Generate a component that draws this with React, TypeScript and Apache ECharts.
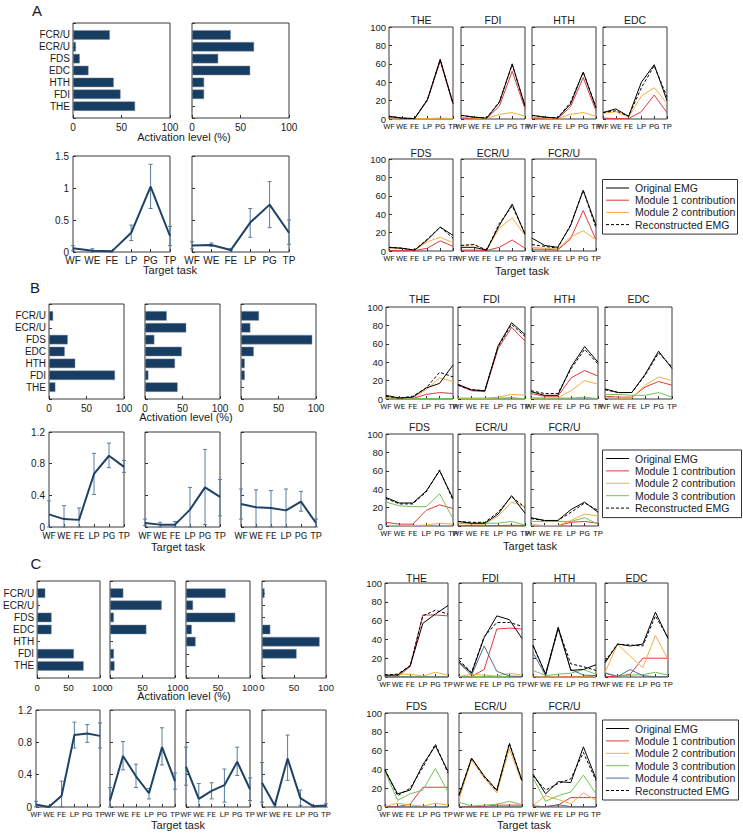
import React, { useEffect, useRef } from 'react';
import * as echarts from 'echarts';

const FONT = '"Liberation Sans", Arial, Helvetica, sans-serif';
const NARROW = 'Roboto, "Liberation Sans", sans-serif';
const TASKS = ['WF', 'WE', 'FE', 'LP', 'PG', 'TP'];
const MUSCLES = ['THE', 'FDI', 'HTH', 'EDC', 'FDS', 'ECR/U', 'FCR/U'];
const BAR_LABELS = ['', ...MUSCLES, ''];
const NAME_ORIG = 'Original EMG';
const NAME_REC = 'Reconstructed EMG';
const MODULE_NAMES = ['Module 1 contribution', 'Module 2 contribution', 'Module 3 contribution', 'Module 4 contribution'];
const MODULE_COLORS = ['#e2383c', '#f5ad3c', '#72c255', '#4e6d8f'];
const BAR_COLOR = '#183d62';
const COEF_COLOR = '#1d4266';
const ERR_COLOR = '#587c9e';

// ---------- Panel A ----------
// weights (%): rows = modules, columns = THE, FDI, HTH, EDC, FDS, ECR/U, FCR/U
const A_W = [
  [64, 49, 42, 16, 7, 3, 38],
  [0, 12.5, 12.5, 60, 27, 64, 40],
];
const A_C = [
  [0.06, 0.02, 0.01, 0.30, 1.02, 0.25],
  [0.10, 0.11, 0.03, 0.46, 0.74, 0.30],
];
const A_LO = [
  [0.02, 0, 0, 0.18, 0.68, 0.10],
  [0.05, 0.09, 0.02, 0.23, 0.38, 0.12],
];
const A_HI = [
  [0.10, 0.05, 0.02, 0.42, 1.37, 0.40],
  [0.16, 0.14, 0.05, 0.68, 1.10, 0.50],
];
const A_ORIG = [
  [3, 1, 0.5, 21, 65, 17],
  [4, 2, 1, 18, 60, 14],
  [4, 2, 1, 16, 51, 12],
  [7, 11, 3, 40, 59, 20],
  [4, 3, 1, 12, 26, 17],
  [4, 4, 1, 28, 51, 18],
  [14, 6, 4, 27, 66, 28],
];
const A_M1 = [
  [2, 0.5, 0.5, 20, 63, 16],
  [1, 0.5, 0.5, 14, 52, 11],
  [1, 0.5, 0.5, 13, 45, 9],
  [1, 0.5, 0.5, 8, 26, 7],
  [0.5, 0.5, 0.5, 3, 11, 5],
  [1, 1, 0.5, 4, 12, 3],
  [2, 2, 1, 13, 44, 12],
];
const A_M2 = [
  [0, 0, 0, 0.5, 1, 0.5],
  [2, 1, 0.5, 5, 7, 3],
  [2, 1, 0.5, 5, 7, 3],
  [6, 8, 2, 25, 34, 17],
  [3, 3, 1, 10, 15, 9],
  [6, 7, 1, 25, 36, 17],
  [4, 3, 2, 15, 22, 12],
];
const A_REC = [
  [3, 1, 0.5, 21, 64, 17],
  [4, 2, 1, 19, 59, 14],
  [4, 2, 1, 18, 51, 13],
  [7, 9, 3, 34, 58, 24],
  [4, 3, 1, 13, 26, 14],
  [6, 7, 1, 30, 49, 19],
  [7, 5, 3, 28, 66, 25],
];

// ---------- Panel B ----------
const B_W = [
  [8.5, 88, 35, 21, 25, 0, 5.5],
  [43.5, 4.5, 40, 49, 12.5, 55, 29],
  [0, 5, 5, 17, 95, 12.5, 24],
];
const B_C = [
  [0.16, 0.10, 0.09, 0.67, 0.90, 0.76],
  [0.05, 0.03, 0.03, 0.22, 0.50, 0.38],
  [0.29, 0.25, 0.24, 0.21, 0.32, 0.05],
];
const B_LO = [
  [0, 0, 0, 0.41, 0.75, 0.69],
  [0.02, 0, 0, 0, 0.03, 0.14],
  [0.10, 0, 0, 0, 0.20, 0],
];
const B_HI = [
  [0.33, 0.27, 0.24, 0.93, 1.06, 0.84],
  [0.10, 0.06, 0.07, 0.50, 0.98, 0.60],
  [0.48, 0.47, 0.46, 0.48, 0.45, 0.10],
];
const B_ORIG = [
  [4, 1, 2, 12, 17, 37],
  [16, 10, 9, 58, 83, 70],
  [8, 4, 4, 35, 57, 40],
  [11, 7, 7, 27, 52, 33],
  [31, 25, 25, 38, 60, 30],
  [5, 3, 3, 13, 33, 14],
  [9, 6, 6, 18, 26, 15],
];
const B_M1 = [
  [1, 0.5, 0.5, 5, 7, 6],
  [15, 9, 8, 55, 78, 63],
  [6, 3, 3, 23, 31, 25],
  [3, 2, 2, 13, 19, 15],
  [4, 2, 2, 17, 23, 19],
  [0.3, 0.3, 0.3, 0.5, 0.8, 0.5],
  [1, 0.5, 0.5, 4, 5, 3],
];
const B_M2 = [
  [2, 1, 1, 10, 23, 19],
  [0.5, 0.5, 0.5, 2, 5, 4],
  [1, 1, 1, 9, 20, 16],
  [2, 1, 1, 15, 24, 20],
  [0.5, 0.5, 0.5, 1, 3, 2],
  [3, 2, 2, 11, 26, 21],
  [1, 0.5, 0.5, 6, 13, 11],
];
const B_M3 = [
  [0.3, 0.3, 0.3, 0.3, 0.3, 0.2],
  [1, 1, 1, 1, 1.5, 0.3],
  [1, 1, 1, 1, 2, 0.3],
  [5, 5, 4, 4, 7, 2],
  [26, 22, 21, 21, 35, 8],
  [3, 3, 3, 3, 5, 1],
  [5, 5, 5, 5, 9, 2],
];
const B_REC = [
  [3, 1, 3, 12, 29, 24],
  [15, 10, 9, 57, 81, 68],
  [9, 6, 6, 33, 54, 38],
  [10, 7, 7, 26, 50, 35],
  [30, 24, 24, 37, 61, 28],
  [5, 4, 4, 15, 32, 20],
  [8, 6, 6, 15, 25, 17],
];

// ---------- Panel C ----------
const C_W = [
  [74, 58.5, 0, 23, 23, 2, 13],
  [7, 6, 0, 56, 6, 79.5, 20.5],
  [0, 0, 15, 9, 77, 11, 62],
  [0, 54, 90, 13, 0, 0, 4],
];
const C_C = [
  [0.03, 0.00, 0.14, 0.89, 0.91, 0.88],
  [0.08, 0.63, 0.38, 0.17, 0.74, 0.32],
  [0.50, 0.10, 0.20, 0.27, 0.56, 0.22],
  [0.30, 0.02, 0.60, 0.11, 0.01, 0.02],
];
const C_LO = [
  [0, 0, 0, 0.73, 0.80, 0.73],
  [0, 0.46, 0.24, 0.10, 0.52, 0.22],
  [0.27, 0, 0.10, 0.06, 0.39, 0.08],
  [0.06, 0, 0.33, 0.02, 0, 0],
];
const C_HI = [
  [0.07, 0.01, 0.32, 1.05, 1.02, 1.04],
  [0.24, 0.81, 0.53, 0.23, 0.98, 0.42],
  [0.74, 0.29, 0.30, 0.47, 0.74, 0.36],
  [0.55, 0.03, 0.89, 0.21, 0.02, 0.04],
];
const C_ORIG = [
  [2, 2, 12, 57, 67, 76],
  [16, 4, 42, 65, 61, 41],
  [34, 3, 53, 7, 8, 13],
  [15, 35, 33, 35, 69, 41],
  [39, 14, 18, 45, 65, 38],
  [12, 52, 33, 18, 67, 28],
  [35, 14, 27, 26, 64, 30],
];
const C_M1 = [
  [1, 0.5, 11, 66, 66, 65],
  [0.5, 0.5, 8, 51, 52, 51],
  [0, 0, 0, 0, 0, 0],
  [0.5, 0.5, 3, 20, 20, 20],
  [0.5, 0.5, 3, 21, 21, 21],
  [0.3, 0.3, 0.5, 2, 2, 2],
  [0.5, 0.5, 2, 10, 10, 10],
];
const C_M2 = [
  [1, 3, 3, 1, 5, 2],
  [0.5, 3, 2, 1, 4, 2],
  [0, 0, 0, 0, 0, 0],
  [5, 35, 22, 10, 44, 19],
  [0.5, 4, 2, 1, 4, 2],
  [8, 50, 31, 15, 62, 26],
  [1.5, 12, 8, 3.5, 15, 7],
];
const C_M3 = [
  [0, 0, 0, 0, 0, 0],
  [0.2, 0.2, 0.2, 0.2, 0.2, 0.2],
  [7, 1.5, 3, 4, 8, 3],
  [4.5, 1, 2, 2.5, 5, 2],
  [38, 7, 14, 18, 41, 16],
  [5, 1, 2, 3, 6, 2.4],
  [31, 6, 12, 16, 34, 14],
];
const C_M4 = [
  [0, 0, 0, 0, 0, 0],
  [15, 2, 33, 6, 1, 0.5],
  [26, 1.5, 51, 8, 2, 1.5],
  [4, 0.3, 8, 1.4, 0.2, 0.3],
  [0, 0, 0, 0, 0, 0],
  [0, 0, 0, 0, 0, 0],
  [1.2, 0.2, 2.4, 0.4, 0.1, 0.1],
];
const C_REC = [
  [2, 3, 12, 65, 71, 67],
  [18, 5, 43, 58, 58, 54],
  [33, 3, 52, 14, 11, 7],
  [17, 35, 34, 33, 65, 42],
  [40, 12, 20, 42, 67, 36],
  [13, 52, 32, 17, 68, 28],
  [33, 18, 25, 30, 58, 28],
];

const PANEL_DATA = [
  { w: A_W, c: A_C, lo: A_LO, hi: A_HI, orig: A_ORIG, mods: [A_M1, A_M2], rec: A_REC, yMax: 1.5, yInt: 0.5 },
  { w: B_W, c: B_C, lo: B_LO, hi: B_HI, orig: B_ORIG, mods: [B_M1, B_M2, B_M3], rec: B_REC, yMax: 1.2, yInt: 0.4 },
  { w: C_W, c: C_C, lo: C_LO, hi: C_HI, orig: C_ORIG, mods: [C_M1, C_M2, C_M3, C_M4], rec: C_REC, yMax: 1.2, yInt: 0.4 },
];

// ---------- Layout (pixels) ----------
const LAYOUT = [
  {
    letter: [37, 10],
    bars: [[73, 23, 97, 95], [192, 23, 97, 95]],
    lines: [[73, 156, 97, 96], [192, 156, 97, 96]],
    barFont: 10, coefFont: 10, coefFam: FONT,
    act: [184, 137],
    taskL: [170, 270],
    emgLefts: [389, 461, 532, 603], emgW: 64,
    row1: [27, 92], row2: [159, 92], t1: 20, t2: 153,
    legend: { x: 602, c0: 188, pitch: 12.2, w: 135 },
    taskR: [522, 271],
  },
  {
    letter: [35, 287],
    bars: [[49, 304, 75, 95], [145, 304, 75, 95], [241, 304, 75, 95]],
    lines: [[49, 432, 75, 95], [145, 432, 75, 95], [241, 432, 75, 95]],
    barFont: 10, coefFont: 9.5, coefFam: NARROW,
    act: [186, 417],
    taskL: [178, 547],
    emgLefts: [386, 458, 531, 605], emgW: 67,
    row1: [307, 92], row2: [434, 92], t1: 299, t2: 427,
    legend: { x: 602, c0: 458.5, pitch: 12.4, w: 139 },
    taskR: [530, 546],
  },
  {
    letter: [36, 563],
    bars: [[36, 581, 64, 97], [110, 581, 65, 97], [186, 581, 64, 97], [262, 581, 64, 97]],
    lines: [[36, 710, 64, 97], [110, 710, 65, 97], [186, 710, 64, 97], [262, 710, 64, 97]],
    barFont: 9.5, coefFont: 8, coefFam: NARROW,
    act: [184, 696],
    taskL: [178, 825],
    emgLefts: [385, 459, 533, 605], emgW: 63,
    row1: [583, 94], row2: [713, 94], t1: 578, t2: 706,
    legend: { x: 602, c0: 728.5, pitch: 12.4, w: 136 },
    taskR: [524, 825],
  },
];

function buildOption() {
  const grid: any[] = [];
  const xAxis: any[] = [];
  const yAxis: any[] = [];
  const series: any[] = [];
  const graphic: any[] = [];

  const tick = { show: true, inside: true, length: 3, lineStyle: { color: '#333', width: 1 } };
  const addGrid = (r: number[]) => {
    grid.push({ left: r[0], top: r[1], width: r[2], height: r[3], show: true, borderColor: '#3a3a3a', borderWidth: 1, backgroundColor: 'rgba(0,0,0,0)' });
    return grid.length - 1;
  };
  const text = (x: number, y: number, t: string, size: number, align = 'center') => {
    graphic.push({
      type: 'text', x, y, silent: true, z: 100,
      style: { text: t, fontSize: size, fontFamily: FONT, fill: '#1a1a1a', textAlign: align, textVerticalAlign: 'middle' },
    });
  };

  const errRender = (params: any, api: any) => {
    const i = api.value(0);
    const p1 = api.coord([i, api.value(1)]);
    const p2 = api.coord([i, api.value(2)]);
    const c = 2;
    const style = { stroke: ERR_COLOR, lineWidth: 1 };
    return {
      type: 'group',
      children: [
        { type: 'line', shape: { x1: p1[0], y1: p1[1], x2: p2[0], y2: p2[1] }, style },
        { type: 'line', shape: { x1: p1[0] - c, y1: p1[1], x2: p1[0] + c, y2: p1[1] }, style },
        { type: 'line', shape: { x1: p2[0] - c, y1: p2[1], x2: p2[0] + c, y2: p2[1] }, style },
      ],
    };
  };

  PANEL_DATA.forEach((pd, pi) => {
    const L = LAYOUT[pi];
    const letters = ['A', 'B', 'C'];
    text(L.letter[0], L.letter[1], letters[pi], 15);
    text(L.act[0], L.act[1], 'Activation level (%)', 11);
    text(L.taskL[0], L.taskL[1], 'Target task', 11);
    text(L.taskR[0], L.taskR[1], 'Target task', 11);

    // weight bar charts
    pd.w.forEach((vals, k) => {
      const gi = addGrid(L.bars[k]);
      xAxis.push({
        gridIndex: gi, type: 'value', min: 0, max: 100, interval: 50,
        axisLine: { show: false }, axisTick: tick, splitLine: { show: false },
        axisLabel: { fontSize: L.barFont, color: '#1a1a1a', fontFamily: FONT, margin: 4 },
      });
      yAxis.push({
        gridIndex: gi, type: 'category', data: BAR_LABELS, boundaryGap: false,
        axisLine: { show: false }, axisTick: { ...tick, interval: 0 }, splitLine: { show: false },
        axisLabel: { show: k === 0, interval: 0, fontSize: 10, color: '#1a1a1a', fontFamily: FONT, margin: 3 },
      });
      series.push({
        type: 'bar', xAxisIndex: gi, yAxisIndex: gi, barWidth: 9.5, silent: true,
        data: ['-', ...vals, '-'],
        itemStyle: { color: BAR_COLOR, borderColor: '#7f8e9c', borderWidth: 0.5 },
      });
    });

    // activation coefficient line charts
    pd.c.forEach((vals, k) => {
      const gi = addGrid(L.lines[k]);
      xAxis.push({
        gridIndex: gi, type: 'category', data: TASKS, boundaryGap: false,
        axisLine: { show: false }, axisTick: { ...tick, interval: 0 }, splitLine: { show: false },
        axisLabel: { interval: 0, fontSize: L.coefFont, color: '#1a1a1a', fontFamily: L.coefFam, margin: 3 },
      });
      yAxis.push({
        gridIndex: gi, type: 'value', min: 0, max: pd.yMax, interval: pd.yInt,
        axisLine: { show: false }, axisTick: tick, splitLine: { show: false },
        axisLabel: { show: k === 0, fontSize: 10, color: '#1a1a1a', fontFamily: FONT, margin: 4 },
      });
      series.push({
        type: 'custom', xAxisIndex: gi, yAxisIndex: gi, silent: true, z: 1,
        encode: { x: 0, y: [1, 2] },
        data: TASKS.map((_, i) => [i, pd.lo[k][i], pd.hi[k][i]]),
        renderItem: errRender,
      });
      series.push({
        type: 'line', xAxisIndex: gi, yAxisIndex: gi, silent: true, z: 3,
        data: vals, symbol: 'none', lineStyle: { color: COEF_COLOR, width: 2 },
      });
    });

    // EMG small multiples
    MUSCLES.forEach((m, mi) => {
      const row = mi < 4 ? 0 : 1;
      const col = mi < 4 ? mi : mi - 4;
      const r = row === 0 ? L.row1 : L.row2;
      const rect = [L.emgLefts[col], r[0], L.emgW, r[1]];
      const gi = addGrid(rect);
      xAxis.push({
        gridIndex: gi, type: 'category', data: TASKS, boundaryGap: false,
        axisLine: { show: false }, axisTick: { ...tick, interval: 0 }, splitLine: { show: false },
        axisLabel: { interval: 0, fontSize: 8, color: '#1a1a1a', fontFamily: NARROW, margin: 3 },
      });
      yAxis.push({
        gridIndex: gi, type: 'value', min: 0, max: 100, interval: 20,
        axisLine: { show: false }, axisTick: tick, splitLine: { show: false },
        axisLabel: { show: col === 0, fontSize: 9.5, color: '#1a1a1a', fontFamily: FONT, margin: 3 },
      });
      text(rect[0] + rect[2] / 2, row === 0 ? L.t1 : L.t2, m, 10.5);
      pd.mods.forEach((md, k) => {
        series.push({
          type: 'line', name: MODULE_NAMES[k], xAxisIndex: gi, yAxisIndex: gi, silent: true,
          data: md[mi], symbol: 'none', lineStyle: { color: MODULE_COLORS[k], width: 1 }, z: 2,
        });
      });
      series.push({
        type: 'line', name: NAME_ORIG, xAxisIndex: gi, yAxisIndex: gi, silent: true,
        data: pd.orig[mi], symbol: 'none', lineStyle: { color: '#000', width: 1 }, z: 3,
      });
      series.push({
        type: 'line', name: NAME_REC, xAxisIndex: gi, yAxisIndex: gi, silent: true,
        data: pd.rec[mi], symbol: 'none', lineStyle: { color: '#000', width: 1, type: [3, 2] }, z: 4,
      });
    });

    // legend box drawn with graphic elements
    const items = [
      { name: NAME_ORIG, color: '#000', dash: null as any },
      ...pd.mods.map((_, k) => ({ name: MODULE_NAMES[k], color: MODULE_COLORS[k], dash: null as any })),
      { name: NAME_REC, color: '#000', dash: [3, 2] },
    ];
    const lg = L.legend;
    const top = lg.c0 - 9;
    const h = (items.length - 1) * lg.pitch + 18;
    graphic.push({
      type: 'rect', silent: true, z: 90,
      shape: { x: lg.x + 0.5, y: top + 0.5, width: lg.w, height: h },
      style: { fill: '#fff', stroke: '#333', lineWidth: 1 },
    });
    items.forEach((it, i) => {
      const cy = lg.c0 + i * lg.pitch;
      graphic.push({
        type: 'line', silent: true, z: 95,
        shape: { x1: lg.x + 4, y1: cy, x2: lg.x + 27, y2: cy },
        style: { stroke: it.color, lineWidth: 1, lineDash: it.dash },
      });
      text(lg.x + 33, cy, it.name, 10.5, 'left');
    });
  });

  return {
    animation: false,
    backgroundColor: '#fff',
    grid, xAxis, yAxis, series, graphic,
  };
}

export default function App() {
  const ref = useRef<HTMLDivElement>(null);
  useEffect(() => {
    document.body.style.margin = '0';
    const chart = echarts.init(ref.current!, null, { renderer: 'svg' });
    chart.setOption(buildOption() as any);
    return () => chart.dispose();
  }, []);
  return <div ref={ref} style={{ width: 743, height: 835, background: '#fff' }} />;
}
